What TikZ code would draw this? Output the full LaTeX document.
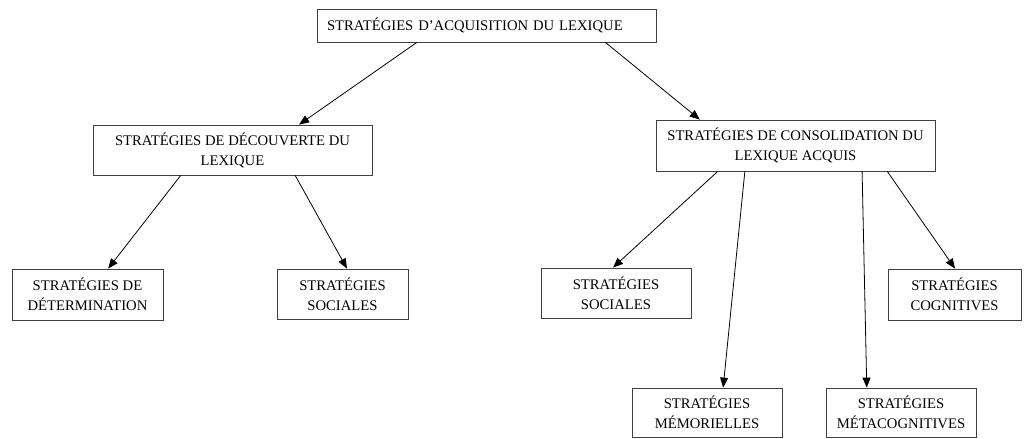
\documentclass[tikz,border=0pt]{standalone}
\usepackage{fontspec}
\setmainfont{Liberation Serif}
\usetikzlibrary{calc,arrows.meta}
\begin{document}
\begin{tikzpicture}[x=0.75pt,y=-0.75pt,
  box/.style={draw=black!75,line width=0.6pt,rectangle,align=center,inner sep=0pt,
    font=\fontsize{11}{15}\selectfont},
  arr/.style={draw=black,line width=0.6pt,-{Triangle[length=7.5pt,width=6pt]}}]
\useasboundingbox (0,0) rectangle (1032,439);
\node[box,align=left,text width=319*0.75pt,inner xsep=10*0.75pt,minimum height=33*0.75pt] (top) at (486.5,25.5) {STRATÉGIES D’ACQUISITION DU LEXIQUE};
\node[box,minimum width=279*0.75pt,minimum height=50*0.75pt] (left) at (232.5,150) {STRATÉGIES DE DÉCOUVERTE DU\\LEXIQUE};
\node[box,minimum width=279*0.75pt,minimum height=51*0.75pt] (right) at (795.5,145.5) {STRATÉGIES DE CONSOLIDATION DU\\LEXIQUE ACQUIS};
\node[box,minimum width=151*0.75pt,minimum height=51*0.75pt] (det) at (87.5,294.5) {STRATÉGIES DE\\DÉTERMINATION};
\node[box,minimum width=131*0.75pt,minimum height=50*0.75pt] (soca) at (342.5,294) {STRATÉGIES\\SOCIALES};
\node[box,minimum width=150*0.75pt,minimum height=50*0.75pt] (socb) at (616,293) {STRATÉGIES\\SOCIALES};
\node[box,minimum width=133*0.75pt,minimum height=51*0.75pt] (cog) at (954.5,294.5) {STRATÉGIES\\COGNITIVES};
\node[box,minimum width=150*0.75pt,minimum height=49*0.75pt] (mem) at (707,412.5) {STRATÉGIES\\MÉMORIELLES};
\node[box,minimum width=150*0.75pt,minimum height=49*0.75pt] (meta) at (901,412.5) {STRATÉGIES\\MÉTACOGNITIVES};

\draw[arr] ($(top.south west)!0.295!(top.south east)$) -- ($(left.north west)!0.738!(left.north east)$);
\draw[arr] ($(top.south west)!0.85!(top.south east)$) -- ($(right.north west)!0.158!(right.north east)$);
\draw[arr] ($(left.south west)!0.315!(left.south east)$) -- ($(det.north west)!0.636!(det.north east)$);
\draw[arr] ($(left.south west)!0.724!(left.south east)$) -- ($(soca.north west)!0.534!(soca.north east)$);
\draw[arr] ($(right.south west)!0.222!(right.south east)$) -- ($(socb.north west)!0.48!(socb.north east)$);
\draw[arr] ($(right.south west)!0.319!(right.south east)$) -- ($(mem.north west)!0.607!(mem.north east)$);
\draw[arr] ($(right.south west)!0.738!(right.south east)$) -- ($(meta.north west)!0.273!(meta.north east)$);
\draw[arr] ($(right.south west)!0.828!(right.south east)$) -- ($(cog.north west)!0.504!(cog.north east)$);
\end{tikzpicture}
\end{document}
